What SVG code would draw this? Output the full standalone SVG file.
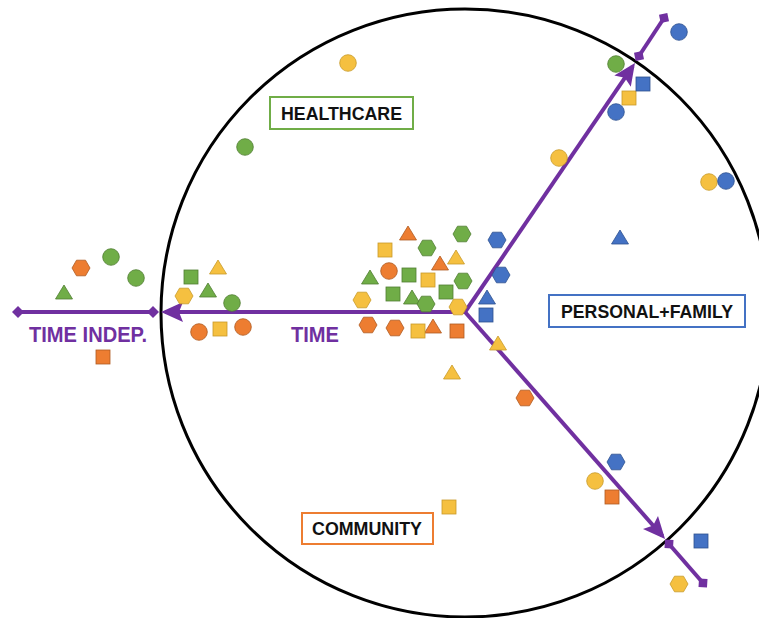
<svg xmlns="http://www.w3.org/2000/svg" xmlns:xlink="http://www.w3.org/1999/xlink" width="759" height="618" viewBox="0 0 759 618">
<style>
.g{fill:#70AD47;stroke:#507E32;stroke-width:0.8}
.o{fill:#ED7D31;stroke:#AE5A21;stroke-width:0.8}
.y{fill:#F5C040;stroke:#C89A2A;stroke-width:0.8}
.b{fill:#4472C4;stroke:#2F528F;stroke-width:0.8}
.ax{stroke:#7030A0;stroke-width:4;fill:none}
.lbl{font-family:"Liberation Sans",Arial,sans-serif;font-weight:bold;fill:#111}
.plbl{font-family:"Liberation Sans",Arial,sans-serif;font-weight:bold;fill:#7030A0;font-size:22px}
.box{fill:#fff;stroke-width:2}
</style>
<defs>
<marker id="arr" viewBox="-22 -12 28 24" markerWidth="28" markerHeight="24" refX="0" refY="0" orient="auto" markerUnits="userSpaceOnUse">
<path d="M4,0 L-18,-10 L-14,0 L-18,10 Z" fill="#7030A0"/>
</marker>
<marker id="dia" viewBox="-7 -7 14 14" markerWidth="14" markerHeight="14" refX="0" refY="0" orient="auto" markerUnits="userSpaceOnUse">
<path d="M-6,0 L0,-6 L6,0 L0,6 Z" fill="#7030A0"/>
</marker>
<circle id="c" r="8.3"/>
<rect id="s" x="-7" y="-7" width="14" height="14"/>
<path id="t" d="M0,-8 L8.5,6 L-8.5,6 Z"/>
<path id="h" d="M-9,0 L-4.5,-7.8 L4.5,-7.8 L9,0 L4.5,7.8 L-4.5,7.8 Z"/>
</defs>
<rect width="759" height="618" fill="#fff"/>
<circle id="boundary" cx="465" cy="313" r="304" fill="none" stroke="#000" stroke-width="3"/>
<g id="connectors">
<line class="ax" x1="465" y1="312" x2="165" y2="312" marker-end="url(#arr)"/>
<line class="ax" x1="465" y1="312" x2="632.7" y2="66.3" marker-end="url(#arr)"/>
<line class="ax" x1="465" y1="312" x2="662.4" y2="536" marker-end="url(#arr)"/>
<line class="ax" x1="153" y1="312" x2="18" y2="312" marker-start="url(#dia)" marker-end="url(#dia)"/>
<line class="ax" x1="639" y1="56" x2="664" y2="18" marker-start="url(#dia)" marker-end="url(#dia)"/>
<line class="ax" x1="669" y1="544" x2="703" y2="583" marker-start="url(#dia)" marker-end="url(#dia)"/>
</g>
<g id="healthcare-label">
<rect class="box" x="270" y="97" width="143" height="32" stroke="#70AD47"/>
<text class="lbl" x="281" y="120" font-size="18.5" textLength="121" lengthAdjust="spacingAndGlyphs">HEALTHCARE</text>
</g>
<g id="community-label">
<rect class="box" x="302" y="513" width="131" height="31" stroke="#ED7D31"/>
<text class="lbl" x="312" y="535" font-size="18.5" textLength="110" lengthAdjust="spacingAndGlyphs">COMMUNITY</text>
</g>
<g id="personal-family-label">
<rect class="box" x="549" y="295" width="196" height="32" stroke="#4472C4"/>
<text class="lbl" x="561" y="318" font-size="18.5" textLength="172" lengthAdjust="spacingAndGlyphs">PERSONAL+FAMILY</text>
</g>
<g id="axis-labels">
<text class="plbl" x="29" y="342" textLength="118" lengthAdjust="spacingAndGlyphs">TIME INDEP.</text>
<text class="plbl" x="291" y="342" textLength="48" lengthAdjust="spacingAndGlyphs">TIME</text>
</g>
<g id="green-items">
<use href="#c" class="g" x="111" y="257"/>
<use href="#c" class="g" x="136" y="278"/>
<use href="#t" class="g" x="64" y="293"/>
<use href="#s" class="g" x="191" y="277"/>
<use href="#t" class="g" x="208" y="291"/>
<use href="#c" class="g" x="232" y="303"/>
<use href="#c" class="g" x="245" y="147"/>
<use href="#h" class="g" x="462" y="234"/>
<use href="#h" class="g" x="427" y="248"/>
<use href="#t" class="g" x="370" y="278"/>
<use href="#s" class="g" x="409" y="275"/>
<use href="#h" class="g" x="463" y="281"/>
<use href="#s" class="g" x="393" y="294"/>
<use href="#t" class="g" x="412" y="298"/>
<use href="#s" class="g" x="446" y="292"/>
<use href="#h" class="g" x="426" y="304"/>
<use href="#c" class="g" x="616" y="64"/>
</g>
<g id="orange-items">
<use href="#h" class="o" x="81" y="268"/>
<use href="#s" class="o" x="103" y="357"/>
<use href="#c" class="o" x="199" y="332"/>
<use href="#c" class="o" x="243" y="327"/>
<use href="#t" class="o" x="408" y="234"/>
<use href="#t" class="o" x="440" y="264"/>
<use href="#c" class="o" x="389" y="271"/>
<use href="#h" class="o" x="368" y="325"/>
<use href="#h" class="o" x="395" y="328"/>
<use href="#t" class="o" x="433" y="327"/>
<use href="#s" class="o" x="457" y="331"/>
<use href="#h" class="o" x="525" y="398"/>
<use href="#s" class="o" x="612" y="497"/>
</g>
<g id="yellow-items">
<use href="#c" class="y" x="348" y="63"/>
<use href="#t" class="y" x="218" y="268"/>
<use href="#h" class="y" x="184" y="296"/>
<use href="#s" class="y" x="220" y="329"/>
<use href="#s" class="y" x="385" y="250"/>
<use href="#t" class="y" x="456" y="258"/>
<use href="#s" class="y" x="428" y="280"/>
<use href="#h" class="y" x="362" y="300"/>
<use href="#h" class="y" x="458" y="307"/>
<use href="#s" class="y" x="418" y="331"/>
<use href="#t" class="y" x="498" y="344"/>
<use href="#t" class="y" x="452" y="373"/>
<use href="#s" class="y" x="449" y="507"/>
<use href="#c" class="y" x="595" y="481"/>
<use href="#h" class="y" x="679" y="584"/>
<use href="#c" class="y" x="559" y="158"/>
<use href="#c" class="y" x="709" y="182"/>
<use href="#s" class="y" x="629" y="98"/>
</g>
<g id="blue-items">
<use href="#h" class="b" x="497" y="240"/>
<use href="#h" class="b" x="501" y="275"/>
<use href="#t" class="b" x="487" y="298"/>
<use href="#s" class="b" x="486" y="315"/>
<use href="#t" class="b" x="620" y="238"/>
<use href="#c" class="b" x="726" y="181"/>
<use href="#c" class="b" x="679" y="32"/>
<use href="#s" class="b" x="643" y="84"/>
<use href="#c" class="b" x="616" y="112"/>
<use href="#h" class="b" x="616" y="462"/>
<use href="#s" class="b" x="701" y="541"/>
</g>
</svg>
